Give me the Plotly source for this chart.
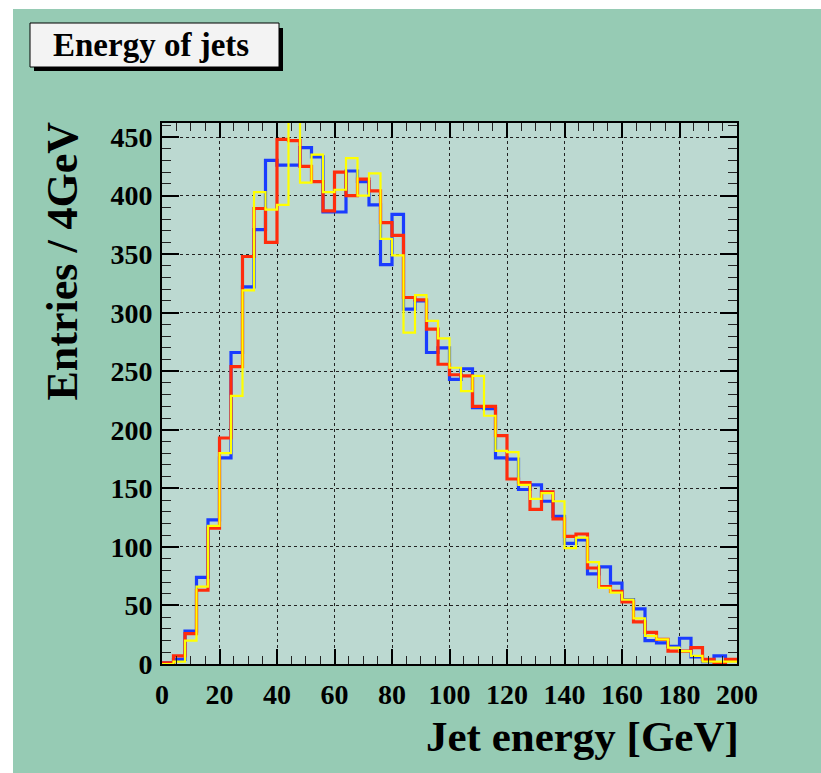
import plotly.graph_objects as go

# ---- data (entries per 4 GeV bin, 0-200 GeV) ----
bin_width = 4
x_min, x_max = 0, 200
blue = [1, 4, 28, 74, 123, 176, 266, 322, 371, 430, 426, 426, 441, 433, 386,
        386, 421, 412, 392, 341, 384, 303, 310, 266, 270, 243, 252, 219, 218, 176,
        175, 149, 153, 139, 126, 103, 106, 77, 83, 69, 55, 47, 20, 18, 15,
        22, 6, 2, 7, 3]
red = [1, 7, 26, 63, 116, 193, 254, 348, 389, 360, 448, 447, 425, 412, 387,
       420, 400, 414, 404, 377, 366, 313, 311, 286, 256, 247, 246, 220, 220, 195,
       158, 155, 132, 147, 124, 109, 111, 82, 66, 62, 53, 36, 27, 21, 11,
       11, 14, 4, 1, 4]
yellow = [0, 2, 20, 66, 118, 180, 229, 319, 403, 388, 392, 480, 411, 435, 403,
          405, 432, 400, 419, 363, 349, 283, 315, 293, 278, 253, 233, 246, 212, 182,
          181, 153, 141, 146, 139, 99, 108, 87, 65, 61, 55, 39, 24, 21, 14,
          11, 7, 2, 2, 2]

title_text = "Energy of jets"
x_title = "Jet energy [GeV]"
y_title = "Entries / 4GeV"

# ---- layout geometry (pixels) ----
W, H = 821, 773
L, R, T, B = 162, 84, 123, 109
pw, ph = W - L - R, H - T - B


def px(xp):
    return (xp - L) / pw


def py(yp):
    return (H - B - yp) / ph


edges = [x_min + i * bin_width for i in range(len(blue) + 1)]


def step(vals):
    return edges, list(vals) + [vals[-1]]


fig = go.Figure()
for vals, col, w in [(blue, "#1a3cff", 3.2), (red, "#ff2c0c", 3.2), (yellow, "#ffff00", 2.2)]:
    xs, ys = step(vals)
    fig.add_trace(go.Scatter(x=xs, y=ys, mode="lines", line=dict(color=col, width=w, shape="hv"),
                             showlegend=False, hoverinfo="skip"))

green = "#96cbb4"
axis_font = dict(family="Liberation Serif", size=28, color="black", weight="bold")

fig.update_layout(
    width=W, height=H,
    margin=dict(l=L, r=R, t=T, b=B, pad=0),
    paper_bgcolor=green,
    plot_bgcolor="#bcd9d1",
    showlegend=False,
    xaxis=dict(range=[x_min, x_max], dtick=20, tick0=0, showline=True, linecolor="black", linewidth=2,
               mirror="allticks", ticks="inside", ticklen=15, tickwidth=1.5, tickcolor="black",
               showgrid=True, gridcolor="#222", griddash="dot", gridwidth=1.2,
               minor=dict(dtick=5, ticklen=8, tickwidth=1.2, tickcolor="#222", ticks="inside", showgrid=False),
               tickfont=axis_font, zeroline=False, ticklabelstandoff=4),
    yaxis=dict(range=[0, 462], dtick=50, tick0=0, showline=True, linecolor="black", linewidth=2,
               mirror="allticks", ticks="inside", ticklen=17, tickwidth=1.5, tickcolor="black",
               showgrid=True, gridcolor="#222", griddash="dot", gridwidth=1.2,
               minor=dict(dtick=10, ticklen=9, tickwidth=1.2, tickcolor="#222", ticks="inside", showgrid=False),
               tickfont=axis_font, zeroline=False, ticklabelstandoff=2),
    shapes=[
        # white margins at top and left of the canvas
        dict(type="rect", xref="paper", yref="paper", x0=px(0), x1=px(W), y0=py(9), y1=py(-5),
             fillcolor="white", line=dict(width=0), layer="below"),
        dict(type="rect", xref="paper", yref="paper", x0=px(-5), x1=px(13), y0=py(H + 5), y1=py(-5),
             fillcolor="white", line=dict(width=0), layer="below"),
        # title box shadow and box
        dict(type="rect", xref="paper", yref="paper", x0=px(34), x1=px(283), y0=py(71), y1=py(28),
             fillcolor="black", line=dict(width=0)),
        dict(type="rect", xref="paper", yref="paper", x0=px(30), x1=px(279), y0=py(67), y1=py(23),
             fillcolor="#f3f3f3", line=dict(color="black", width=1)),
    ],
    annotations=[
        dict(text=title_text, xref="paper", yref="paper", x=px(151), y=py(45), xanchor="center",
             yanchor="middle", showarrow=False,
             font=dict(family="Liberation Serif", size=33, color="black", weight="bold")),
        dict(text=x_title, xref="paper", yref="paper", x=px(741), y=py(736), xanchor="right",
             yanchor="middle", showarrow=False,
             font=dict(family="Liberation Serif", size=43, color="black", weight="bold")),
        dict(text=y_title, xref="paper", yref="paper", x=px(62), y=py(120), xanchor="center",
             yanchor="top", textangle=-90, showarrow=False,
             font=dict(family="Liberation Serif", size=44, color="black", weight="bold")),
    ],
)

fig.write_html("out.html")
